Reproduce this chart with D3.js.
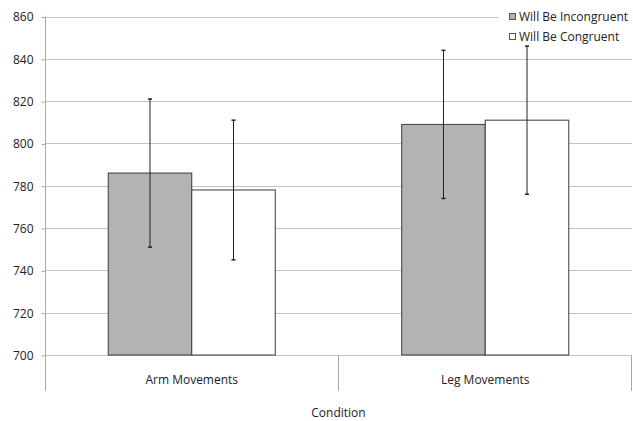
<!DOCTYPE html>
<html>
<head>
<meta charset="utf-8">
<script src="https://cdn.jsdelivr.net/npm/d3@7"></script>
<style>
  body { margin: 0; background: #fff; overflow: hidden; }
  svg { display: block; }
  text { font-family: "Open Sans", sans-serif; fill: #222; }
</style>
</head>
<body>
<div id="chart"></div>
<script>
// data
var conditions = ["Arm Movements", "Leg Movements"];
var seriesNames = ["Will Be Incongruent", "Will Be Congruent"];
var incongruent = [786, 809];
var congruent = [778, 811];
var incongruentErr = [35, 35];
var congruentErr = [33, 35];
var yTicks = [700, 720, 740, 760, 780, 800, 820, 840, 860];

var width = 633, height = 421;
var plotLeft = 45, plotRight = 632, plotTop = 16.5, plotBottom = 355;

var svg = d3.select("#chart").append("svg")
    .attr("width", width)
    .attr("height", height);

var x = d3.scaleBand().domain(conditions).range([plotLeft, plotRight]);
var xInner = d3.scaleBand().domain(seriesNames).range([0, x.bandwidth()]).paddingInner(0).paddingOuter(0.757);
var y = d3.scaleLinear().domain([700, 860]).range([plotBottom, plotTop]);

// gridlines
svg.append("g")
    .selectAll("line")
    .data(yTicks)
    .enter()
    .append("line")
    .attr("x1", plotLeft).attr("x2", plotRight)
    .attr("y1", function(d) {return Math.round(y(d)) + 0.5;})
    .attr("y2", function(d) {return Math.round(y(d)) + 0.5;})
    .attr("stroke", "#c4c4c4")
    .attr("stroke-width", 1);

// y axis
var yAxis = svg.append("g")
    .attr("transform", "translate(" + (plotLeft + 0.5) + ",0.5)")
    .call(d3.axisLeft(y).tickValues(yTicks).tickSize(4).tickPadding(8).tickFormat(d3.format("d")));
yAxis.select(".domain").remove();
yAxis.selectAll(".tick line").attr("stroke", "#aaa");
yAxis.selectAll(".tick text").style("font-size", "12px").attr("fill", "#222")
    .style("font-family", "'Open Sans', sans-serif");
svg.append("line")
    .attr("x1", plotLeft + 0.5).attr("x2", plotLeft + 0.5)
    .attr("y1", plotTop).attr("y2", 391)
    .attr("stroke", "#aaa");

// category dividers
var dividers = [x(conditions[1]), plotRight];
svg.append("g")
    .selectAll("line")
    .data(dividers)
    .enter()
    .append("line")
    .attr("x1", function(d) {return Math.round(d) - 0.5;})
    .attr("x2", function(d) {return Math.round(d) - 0.5;})
    .attr("y1", plotBottom).attr("y2", 391)
    .attr("stroke", "#aaa");

// legend background hides top gridline under it
svg.append("rect")
    .attr("x", 498).attr("y", 8).attr("width", 135).attr("height", 36)
    .attr("fill", "#fff");

// bars
var rows = conditions.map(function(c, i) {
    return [
        {cond: c, series: seriesNames[0], value: incongruent[i], err: incongruentErr[i], fill: "#b3b3b3"},
        {cond: c, series: seriesNames[1], value: congruent[i], err: congruentErr[i], fill: "#ffffff"}
    ];
});

var group = svg.selectAll(".cond")
    .data(rows)
    .enter()
    .append("g")
    .attr("class", "cond")
    .attr("transform", function(d, i) {return "translate(" + x(conditions[i]) + ",0)";});

group.selectAll("rect")
    .data(function(d) {return d;})
    .enter()
    .append("rect")
    .attr("x", function(d) {return xInner(d.series);})
    .attr("y", function(d) {return y(d.value);})
    .attr("width", xInner.bandwidth())
    .attr("height", function(d) {return plotBottom - y(d.value);})
    .attr("fill", function(d) {return d.fill;})
    .attr("stroke", "#3a3a3a")
    .attr("stroke-width", 1);

// error bars
var errs = group.selectAll(".err")
    .data(function(d) {return d;})
    .enter()
    .append("g")
    .attr("class", "err")
    .attr("stroke", "#222")
    .attr("stroke-width", 1);

errs.append("line")
    .attr("x1", function(d) {return xInner(d.series) + xInner.bandwidth() / 2;})
    .attr("x2", function(d) {return xInner(d.series) + xInner.bandwidth() / 2;})
    .attr("y1", function(d) {return y(d.value + d.err);})
    .attr("y2", function(d) {return y(d.value - d.err);});

errs.selectAll(".cap")
    .data(function(d) {return [d.value + d.err, d.value - d.err].map(function(v) {return {v: v, d: d};});})
    .enter()
    .append("line")
    .attr("x1", function(e) {return xInner(e.d.series) + xInner.bandwidth() / 2 - 2;})
    .attr("x2", function(e) {return xInner(e.d.series) + xInner.bandwidth() / 2 + 2;})
    .attr("y1", function(e) {return y(e.v);})
    .attr("y2", function(e) {return y(e.v);})
    .attr("stroke-width", 1.5);

// category labels
svg.append("g")
    .selectAll("text")
    .data(conditions)
    .enter()
    .append("text")
    .attr("x", function(d) {return x(d) + x.bandwidth() / 2;})
    .attr("y", 384)
    .attr("text-anchor", "middle")
    .style("font-size", "12px")
    .text(function(d) {return d;});

// axis title
svg.append("text")
    .attr("x", (plotLeft + plotRight) / 2)
    .attr("y", 417)
    .attr("text-anchor", "middle")
    .style("font-size", "12px")
    .text("Condition");

// legend
var legend = svg.selectAll(".legend")
    .data(seriesNames)
    .enter()
    .append("g")
    .attr("class", "legend")
    .attr("transform", function(d, i) {return "translate(509," + (13 + i * 20) + ")";});

legend.append("rect")
    .attr("x", 0.5).attr("y", 0.5)
    .attr("width", 6).attr("height", 6)
    .attr("fill", function(d, i) {return i == 0 ? "#b3b3b3" : "#fff";})
    .attr("stroke", "#555");

legend.append("text")
    .attr("x", 10)
    .attr("y", 7.5)
    .style("font-size", "12px")
    .text(function(d) {return d;});
</script>
</body>
</html>
